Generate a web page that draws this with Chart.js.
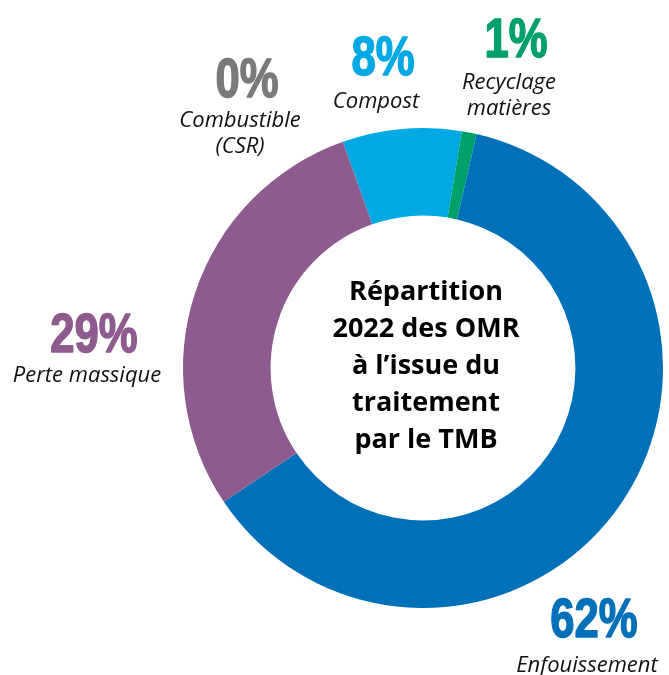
<!DOCTYPE html>
<html lang="fr">
<head>
<meta charset="utf-8">
<title>Répartition 2022 des OMR</title>
<script src="https://cdn.jsdelivr.net/npm/chart.js"></script>
<style>
    html, body { margin: 0; padding: 0; background: #ffffff; }
    #wrap { position: relative; width: 669px; height: 675px; }
</style>
</head>
<body>
<div id="wrap">
    <canvas id="omrChart" width="669" height="675"></canvas>
</div>
<script>
// ==========================
// DATA
// ==========================
const categories = ["Compost", "Recyclage matières", "Enfouissement", "Perte massique", "Combustible (CSR)"];
const values = [8, 1, 62, 29, 0];
const percentLabels = ["8%", "1%", "62%", "29%", "0%"];
const nameLines = [["Compost"], ["Recyclage", "matières"], ["Enfouissement"], ["Perte massique"], ["Combustible", "(CSR)"]];
const centerLines = ["Répartition", "2022 des OMR", "à l’issue du", "traitement", "par le TMB"];

const colors = ["#00a8e4", "#00a06a", "#0070b9", "#8e5b8e", "#7a7a7a"];

// where each outside label sits (center x, baseline of the percent, gap to the name)
const labelPos = [
    { x: 383, y: 75, dy: 33 },
    { x: 516, y: 57, dy: 32 },
    { x: 594, y: 637, dy: 35 },
    { x: 94, y: 352, dy: 30 },
    { x: 247, y: 97, dy: 30 }
];

const pctFont = "bold 56px 'Liberation Sans', Arial, sans-serif";
const pctSqueeze = 0.78; // no condensed face installed, squeeze it by hand
const nameFont = "italic 22px 'Open Sans', Lato, sans-serif";
const centerFont = "bold 27px 'Open Sans', Lato, sans-serif";

// ==========================
// PLUGINS
// ==========================
const outsideLabels = {
    id: "outsideLabels",
    afterDraw(chart) {
        const ctx = chart.ctx;
        ctx.save();
        ctx.textAlign = "center";
        ctx.textBaseline = "alphabetic";
        categories.forEach((cat, i) => {
            const p = labelPos[i];
            ctx.save();
            ctx.fillStyle = colors[i];
            ctx.strokeStyle = colors[i];
            ctx.lineWidth = 1.5;
            ctx.lineJoin = "round";
            ctx.font = pctFont;
            ctx.translate(p.x, p.y);
            ctx.scale(pctSqueeze, 1);
            ctx.fillText(percentLabels[i], 0, 0);
            ctx.strokeText(percentLabels[i], 0, 0); // a bit heavier, like the original face
            ctx.restore();
            ctx.fillStyle = "#111111";
            ctx.font = nameFont;
            nameLines[i].forEach((line, j) => {
                ctx.fillText(line, p.x - 7, p.y + p.dy + j * 26);
            });
        });
        ctx.restore();
    }
};

const centerText = {
    id: "centerText",
    afterDraw(chart) {
        const arc = chart.getDatasetMeta(0).data[0];
        if (!arc) return;
        const ctx = chart.ctx;
        const lineH = 37;
        const firstBase = arc.y - 68;
        ctx.save();
        ctx.textAlign = "center";
        ctx.textBaseline = "alphabetic";
        ctx.fillStyle = "#000000";
        ctx.font = centerFont;
        centerLines.forEach((line, i) => {
            ctx.fillText(line, arc.x + 3, firstBase + i * lineH);
        });
        ctx.restore();
    }
};

// ==========================
// CHART
// ==========================
const ctx = document.getElementById("omrChart");
new Chart(ctx, {
    type: "doughnut",
    data: {
        labels: categories,
        datasets: [{
            data: values,
            backgroundColor: colors,
            borderWidth: 0
        }]
    },
    options: {
        responsive: false,
        animation: false,
        rotation: -19.5,
        cutout: "63.5%",
        layout: {
            padding: { left: 183, right: 6, top: 128, bottom: 67 }
        },
        plugins: {
            legend: { display: false },
            tooltip: { enabled: false }
        }
    },
    plugins: [outsideLabels, centerText]
});
console.log("chart drawn");
</script>
</body>
</html>
